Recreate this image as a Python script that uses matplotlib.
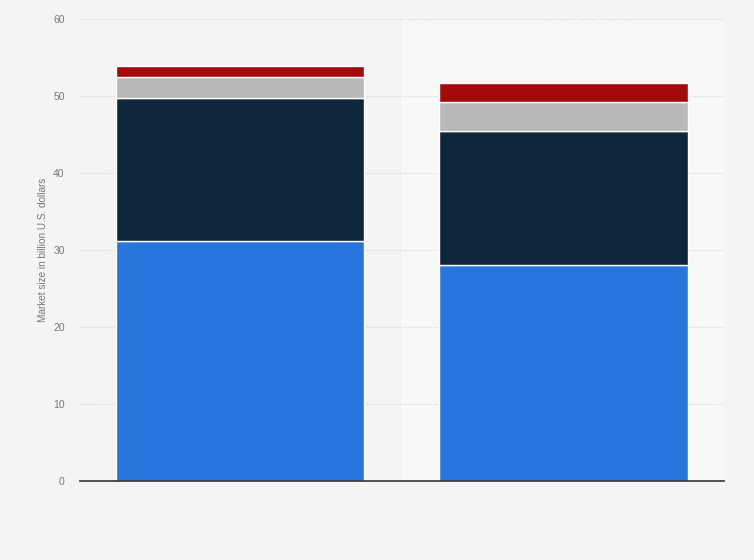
import matplotlib
matplotlib.use("Agg")
import matplotlib.pyplot as plt
import numpy as np

plt.rcParams['font.family'] = ['Liberation Sans', 'DejaVu Sans']

# Data (billion U.S. dollars)
categories = ["A", "B"]
segment_1 = [31.2, 28.0]
segment_2 = [18.6, 17.5]
segment_3 = [2.7, 3.7]
segment_4 = [1.4, 2.5]

series = [segment_1, segment_2, segment_3, segment_4]
colors = ["#2876dd", "#10263b", "#b7b7b7", "#a30b0b"]

fig = plt.figure(figsize=(7.54, 5.6), dpi=100)
fig.patch.set_facecolor("#f4f4f4")
ax = fig.add_axes([80 / 754, 1 - 481 / 560, 644 / 754, 462 / 560])
ax.set_facecolor("#f4f4f4")

x = np.arange(len(categories))
# lighter hover band behind the second bar
ax.axvspan(0.5, 1.5, color="#f8f8f8", zorder=0)

bottom = np.zeros(len(categories))
for vals, col in zip(series, colors):
    ax.bar(x, vals, width=0.77, bottom=bottom, color=col,
           edgecolor="white", linewidth=1, zorder=3)
    bottom += np.array(vals)

ax.set_xlim(-0.495, 1.497)
ax.set_ylim(0, 60)
ax.set_yticks(range(0, 61, 10))
ax.set_xticks([])
ax.yaxis.grid(True, linestyle=(0, (1, 1.5)), color="#d0d0d0", linewidth=0.8, zorder=1)
ax.set_axisbelow(True)

for s in ["top", "right", "left"]:
    ax.spines[s].set_visible(False)
ax.spines["bottom"].set_color("#333333")
ax.spines["bottom"].set_linewidth(1.2)
ax.spines["bottom"].set_zorder(4)

ax.tick_params(axis="y", length=0, pad=11, labelsize=7.5, labelcolor="#777777")
ax.set_ylabel("Market size in billion U.S. dollars", fontsize=7.2, color="#777777", labelpad=4)

fig.savefig("out.png", dpi=100, facecolor=fig.get_facecolor())
